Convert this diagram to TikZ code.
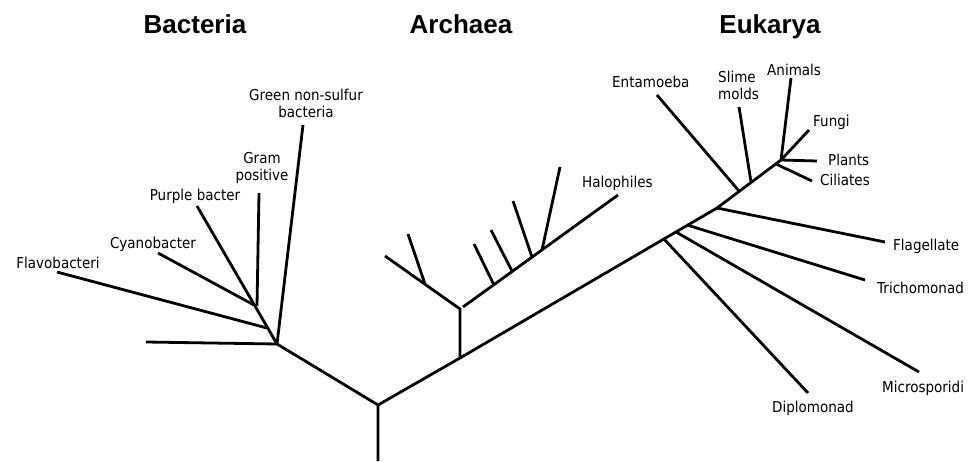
\documentclass[tikz,border=0pt]{standalone}
\usepackage{fontspec}
\setmainfont{DejaVu Sans}[FakeStretch=0.9]
\newfontfamily\titlefont{Liberation Sans}
\begin{document}
\begin{tikzpicture}[x=1pt,y=-1pt,
  branch/.style={line width=2.8pt},
  lbl/.style={font=\fontsize{15}{17}\selectfont, inner sep=0pt},
  ttl/.style={font=\titlefont\bfseries\fontsize{26}{28}\selectfont, inner sep=0pt, anchor=base}]
\useasboundingbox (0,0) rectangle (980,461);
% titles
\node[ttl] (tb) at (195,33) {Bacteria};
\node[ttl] (ta) at (461,33) {Archaea};
\node[ttl] (te) at (770,33) {Eukarya};
% main trunk
\coordinate (rootend) at (378,461);
\coordinate (root) at (378,405);
\coordinate (a0) at (460,358);
\coordinate (e0) at (717,208);
\coordinate (e1) at (781,160);
% bacteria
\coordinate (b0) at (277,344);
\coordinate (bleft) at (146,342);
\coordinate (bgreen) at (303,125);
\coordinate (bpurple) at (197,206);
\coordinate (sflavo) at (267,328);
\coordinate (bflavo) at (57,272);
\coordinate (scyano) at (254,305);
\coordinate (bcyano) at (158,253);
\coordinate (sgram) at (257,306);
\coordinate (bgram) at (259,193);
% archaea
\coordinate (a1) at (460,309);
\coordinate (aleft) at (385,256);
\coordinate (sl1) at (425,284);
\coordinate (al1) at (408,234);
\coordinate (ar0) at (463,307);
\coordinate (ahalo) at (618,195);
\coordinate (sr1) at (494,285);
\coordinate (ar1) at (474,244);
\coordinate (sr2) at (512,271);
\coordinate (ar2) at (491,230);
\coordinate (sr3) at (532,257);
\coordinate (ar3) at (513,201);
\coordinate (sr4) at (542,250);
\coordinate (ar4) at (560,167);
% eukarya
\coordinate (sdip) at (664,239);
\coordinate (edip) at (808,393);
\coordinate (smic) at (676,232);
\coordinate (emic) at (919,372);
\coordinate (stri) at (687,225);
\coordinate (etri) at (865,280);
\coordinate (eflag) at (885,242);
\coordinate (sent) at (739,191);
\coordinate (eent) at (657,95);
\coordinate (sslime) at (751,182);
\coordinate (eslime) at (739,107);
\coordinate (scil) at (776,164);
\coordinate (ecil) at (812,181);
\coordinate (eanim) at (791,78);
\coordinate (efungi) at (809,130);
\coordinate (eplant) at (817,161);

\draw[branch] (rootend) -- (root) -- (a0) -- (e0) -- (e1);
\draw[branch] (root) -- (b0);
\draw[branch] (b0) -- (bleft);
\draw[branch] (b0) -- (bgreen);
\draw[branch] (b0) -- (bpurple);
\draw[branch] (sflavo) -- (bflavo);
\draw[branch] (scyano) -- (bcyano);
\draw[branch] (sgram) -- (bgram);
\draw[branch] (a0) -- (a1) -- (aleft);
\draw[branch] (sl1) -- (al1);
\draw[branch] (ar0) -- (ahalo);
\draw[branch] (sr1) -- (ar1);
\draw[branch] (sr2) -- (ar2);
\draw[branch] (sr3) -- (ar3);
\draw[branch] (sr4) -- (ar4);
\draw[branch] (sdip) -- (edip);
\draw[branch] (smic) -- (emic);
\draw[branch] (stri) -- (etri);
\draw[branch] (e0) -- (eflag);
\draw[branch] (sent) -- (eent);
\draw[branch] (sslime) -- (eslime);
\draw[branch] (scil) -- (ecil);
\draw[branch] (e1) -- (eanim);
\draw[branch] (e1) -- (efungi);
\draw[branch] (e1) -- (eplant);

% labels
\node[lbl, anchor=base, align=center] (lgreen) at (306,117) {Green non-sulfur\\bacteria};
\node[lbl, anchor=base, align=center] (lgram) at (262,180) {Gram\\positive};
\node[lbl, anchor=base] (lpurple) at (195,200) {Purple bacter};
\node[lbl, anchor=base] (lcyano) at (153,248) {Cyanobacter};
\node[lbl, anchor=base] (lflavo) at (58,268) {Flavobacteri};
\node[lbl, anchor=base west] (lhalo) at (582,187) {Halophiles};
\node[lbl, anchor=base west] (lent) at (612,87) {Entamoeba};
\node[lbl, anchor=base west, align=left] (lslime) at (718,99) {Slime\\molds};
\node[lbl, anchor=base west] (lanim) at (767,75) {Animals};
\node[lbl, anchor=base west] (lfungi) at (813,126) {Fungi};
\node[lbl, anchor=base west] (lplant) at (828,165) {Plants};
\node[lbl, anchor=base west] (lcil) at (820,185) {Ciliates};
\node[lbl, anchor=base west] (lflag) at (893,250) {Flagellate};
\node[lbl, anchor=base west] (ltri) at (877,293) {Trichomonad};
\node[lbl, anchor=base west] (lmic) at (882,392) {Microsporidi};
\node[lbl, anchor=base] (ldip) at (813,412) {Diplomonad};
\end{tikzpicture}
\end{document}
